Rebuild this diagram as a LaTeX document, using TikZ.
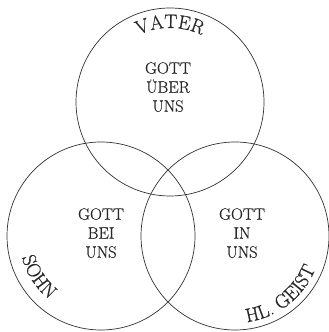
\documentclass[tikz,border=0pt]{standalone}
\usepackage{fontspec}
\usepackage{tikz}
\usetikzlibrary{positioning, calc, decorations.text}
\newfontfamily\diagfont{Latin Modern Roman}[FakeBold=0.5]
\definecolor{inkgrey}{RGB}{40,40,40}
\definecolor{rimgrey}{RGB}{50,50,50}

\tikzset{
    rim/.style={draw=rimgrey, line width=0.7pt},
    inner/.style={inner sep=0pt, anchor=north, align=center, text=inkgrey,
                  font=\diagfont\fontsize{16.5}{19}\selectfont},
}

\begin{document}
\begin{tikzpicture}[x=1pt, y=1pt]
    \useasboundingbox (0,0) rectangle (329,332);
    \coordinate (V) at (170,230);
    \coordinate (S) at (101,96);
    \coordinate (G) at (235,96);
    \foreach \p in {V,S,G}
        \draw[rim] (\p) circle[radius=94];

    \node[inner] (ueber) at (168,270) {GOTT\\ÜBER\\UNS};
    \node[inner] (bei)   at (101,124) {GOTT\\BEI\\UNS};
    \node[inner] (in)    at (242,124) {GOTT\\IN\\UNS};

    % names along the rims
    \path[decorate, decoration={text along path, text align=center,
          text={|\diagfont\fontsize{19.5}{19}\selectfont\color{inkgrey}|VATER}}]
        ([shift={(150:74)}]V) arc[start angle=150, end angle=30, radius=74];
    \path[decorate, decoration={text along path, text align=center,
          text={|\diagfont\fontsize{19.5}{19}\selectfont\color{inkgrey}|SOHN}}]
        ([shift={(173:82)}]S) arc[start angle=173, end angle=253, radius=82];
    \path[decorate, decoration={text along path, text align=center,
          text={|\diagfont\fontsize{19.5}{19}\selectfont\color{inkgrey}|HL. GEIST}}]
        ([shift={(-102:87)}]G) arc[start angle=-102, end angle=-2, radius=87];
\end{tikzpicture}
\end{document}
